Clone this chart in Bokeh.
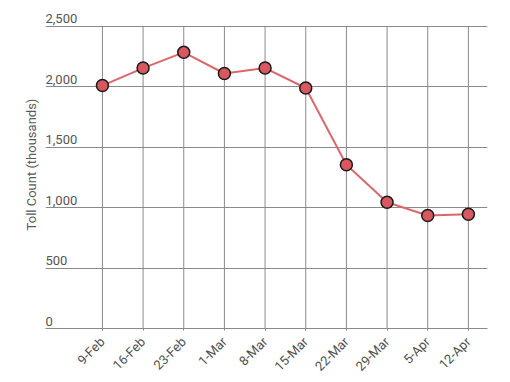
import math
from bokeh.plotting import figure
from bokeh.models import FixedTicker, Range1d, ColumnDataSource
from bokeh.core.properties import value
from bokeh.embed import file_html
from bokeh.resources import INLINE

weeks = ["9-Feb", "16-Feb", "23-Feb", "1-Mar", "8-Mar", "15-Mar", "22-Mar", "29-Mar", "5-Apr", "12-Apr"]
toll_counts = [2010, 2155, 2285, 2110, 2155, 1990, 1355, 1045, 935, 945]
y_ticks = [0, 500, 1000, 1500, 2000, 2500]
y_tick_labels = ["0", "500", "1,000", "1,500", "2,000", "2,500"]
y_title = "Toll Count (thousands)"

idx = list(range(len(weeks)))
FONT = "Roboto"
GRID = "#8a8a8a"

p = figure(width=502, height=382, output_backend="svg", toolbar_location=None,
           x_range=Range1d(-1.40, 9.47), y_range=Range1d(0, 2714),
           min_border_left=45, min_border_right=15, min_border_top=0, min_border_bottom=50)
p.outline_line_color = None
p.background_fill_color = "white"
p.border_fill_color = "white"

# y axis: only the title is shown; tick labels drawn inside plot above gridlines
ya = p.yaxis[0]
ya.ticker = FixedTicker(ticks=[])
ya.axis_label = y_title
ya.axis_label_text_font = FONT
ya.axis_label_text_font_size = "13px"
ya.axis_label_text_font_style = "normal"
ya.axis_label_text_color = "#5a5a5a"
ya.axis_label_standoff = 7
ya.major_label_standoff = 0
ya.axis_line_color = None
ya.major_tick_line_color = None
ya.minor_tick_line_color = None
ya.major_tick_out = 0
ya.major_tick_in = 0

p.ygrid.ticker = FixedTicker(ticks=y_ticks)
p.ygrid.grid_line_color = GRID
p.ygrid.grid_line_width = 1
p.xgrid.visible = False

# x axis
xa = p.xaxis[0]
xa.ticker = FixedTicker(ticks=idx)
xa.major_label_overrides = {i: w for i, w in zip(idx, weeks)}
xa.major_label_orientation = math.pi / 4
xa.major_label_text_font = FONT
xa.major_label_text_font_size = "13px"
xa.major_label_text_color = "#505050"
xa.major_label_standoff = 9
xa.axis_line_color = GRID
xa.major_tick_line_color = GRID
xa.major_tick_out = 2
xa.major_tick_in = 0
xa.minor_tick_line_color = None

# vertical gridlines from 0 to top tick
p.segment(x0=idx, y0=[y_ticks[0]] * len(idx), x1=idx, y1=[y_ticks[-1]] * len(idx),
          line_color=GRID, line_width=1)

# y tick labels
src = ColumnDataSource(dict(x=[p.x_range.start] * len(y_ticks), y=y_ticks, t=y_tick_labels))
p.text(x="x", y="y", text="t", source=src, text_font=value(FONT), text_font_size="13px",
       text_color="#555555", text_align="left", text_baseline="bottom", y_offset=-3)

# series
p.line(idx, toll_counts, line_color="#d9686d", line_width=2)
p.scatter(idx, toll_counts, size=12, fill_color="#d9575e", line_color="#1a1a1a", line_width=1.5)

open("out.html", "w").write(file_html(p, INLINE))
